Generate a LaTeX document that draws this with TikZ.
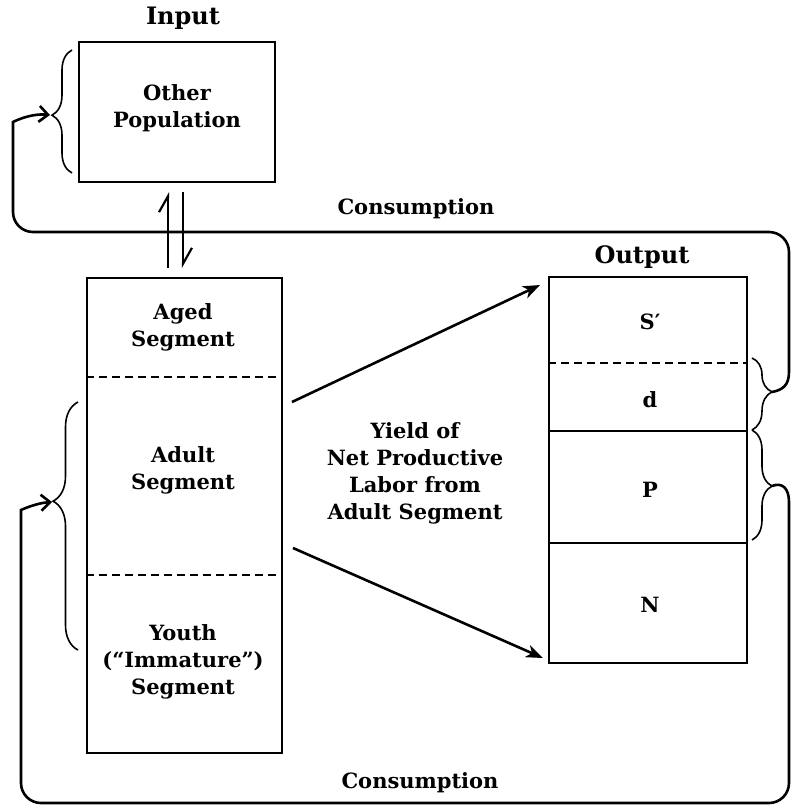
\documentclass[tikz,border=0pt]{standalone}
\usepackage{fontspec}
\setmainfont{DejaVu Serif}
\usetikzlibrary{arrows.meta,decorations.pathreplacing}
\begin{document}
\begin{tikzpicture}[x=1pt,y=-1pt,
  every node/.style={font=\fontsize{21}{27}\selectfont\bfseries, align=center, inner sep=0pt},
  title/.style={font=\fontsize{24}{27}\selectfont\bfseries},
  box/.style={draw, line width=1.8pt},
  conn/.style={line width=2.6pt},
  brc/.style={decorate, line width=1.6pt},
  divd/.style={line width=1.6pt, dash pattern=on 8pt off 5pt},
  divs/.style={line width=1.8pt},
  yieldarrow/.style={conn, -{Stealth[length=17pt,width=13pt,inset=5pt]}},
  looparrow/.style={conn, -{Straight Barb[length=9pt,width=16pt]}},
  harp/.style={line width=2.2pt, -{Straight Barb[harpoon,length=16pt,width=18pt]}}
]
\useasboundingbox (0,0) rectangle (791,807);

% boxes
\node[box, minimum width=196pt, minimum height=140pt] (inbox) at (177,112) {};
\node (inlabel) at (177,108) {Other\\Population};
\node[box, minimum width=195pt, minimum height=475pt] (lbox) at (184.5,515.5) {};
\node[box, minimum width=198pt, minimum height=386pt] (obox) at (648,470) {};

% titles
\node[title] (intitle) at (183,18) {Input};
\node[title] (outtitle) at (642,257) {Output};

% dividers
\draw[divd] (lbox.west |- 0,377) -- (lbox.east |- 0,377);
\draw[divd] (lbox.west |- 0,575) -- (lbox.east |- 0,575);
\draw[divd] (obox.west |- 0,363) -- (obox.east |- 0,363);
\draw[divs] (obox.west |- 0,431) -- (obox.east |- 0,431);
\draw[divs] (obox.west |- 0,543) -- (obox.east |- 0,543);

% left box labels
\node (aged) at (183,327) {Aged\\Segment};
\node (adult) at (183,470) {Adult\\Segment};
\node (youth) at (183,662) {Youth\\(“Immature”)\\Segment};

% output labels
\node (sp) at (650,322) {S′};
\node (dd) at (650,400) {d};
\node (pp) at (650,490) {P};
\node (nn) at (650,605) {N};

% middle text
\node (yield) at (415,473) {Yield of\\Net Productive\\Labor from\\Adult Segment};

% consumption labels
\node (cons1) at (416,209) {Consumption};
\node (cons2) at (420,783) {Consumption};

% braces
\coordinate (inb1) at (72,173);
\coordinate (inb2) at (72,50);
\coordinate (intip) at (50,115);
\draw[brc, decoration={brace, amplitude=20pt, aspect=0.47}] (inb1) -- (inb2);

\coordinate (ab1) at (78,650);
\coordinate (ab2) at (78,402);
\coordinate (atip) at (52,502);
\draw[brc, decoration={brace, amplitude=25pt, aspect=0.6}] (ab1) -- (ab2);

\coordinate (db1) at (752,358);
\coordinate (db2) at (752,430);
\coordinate (dtip) at (772,392);
\draw[brc, decoration={brace, amplitude=20pt, aspect=0.47}] (db1) -- (db2);

\coordinate (pb1) at (752,430);
\coordinate (pb2) at (752,540);
\coordinate (ptip) at (772,486);
\draw[brc, decoration={brace, amplitude=20pt, aspect=0.51}] (pb1) -- (pb2);

% exchange harpoons
\coordinate (up1) at (168,268);
\coordinate (up2) at (168,192);
\coordinate (dn1) at (183,192);
\coordinate (dn2) at (183,268);
\draw[harp] (up1) -- (up2);
\draw[harp] (dn1) -- (dn2);

% yield arrows
\coordinate (ya1) at (292,402);
\coordinate (ya2) at (540,285);
\coordinate (yb1) at (293,548);
\coordinate (yb2) at (543,658);
\draw[yieldarrow] (ya1) -- (ya2);
\draw[yieldarrow] (yb1) -- (yb2);

% top consumption loop
\draw[looparrow] (dtip) .. controls (782,390) and (789,386) .. (789,372)
  [rounded corners=20pt] -- (789,232) -- (13,232) -- (13,142)
  [sharp corners] .. controls (13,122) and (30,113) .. (intip);

% bottom consumption loop
\draw[looparrow] (ptip) .. controls (782,482) and (789,488) .. (789,502)
  [rounded corners=20pt] -- (789,803) -- (21,803) -- (21,530)
  [sharp corners] .. controls (21,510) and (36,503) .. (atip);

\end{tikzpicture}
\end{document}
